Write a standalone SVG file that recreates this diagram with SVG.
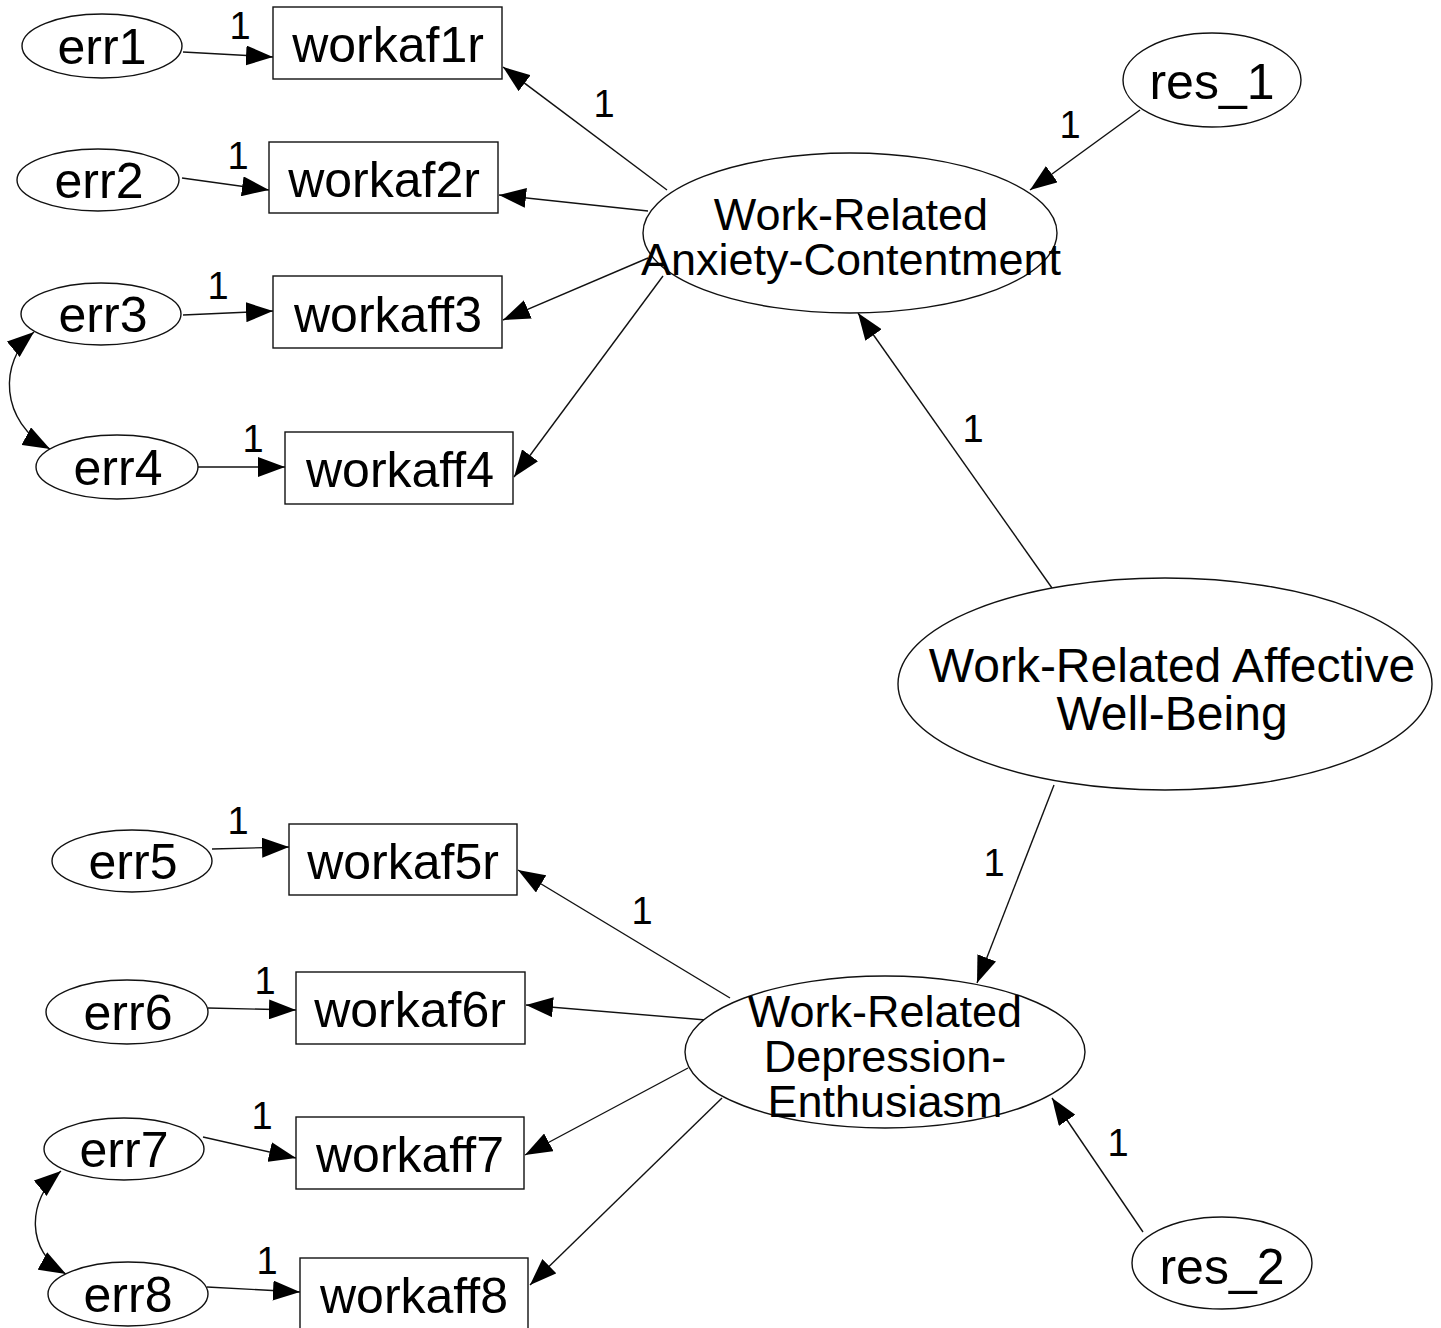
<svg xmlns="http://www.w3.org/2000/svg" width="1441" height="1328" viewBox="0 0 1441 1328">
  <style>
    .shape { fill: #fff; stroke: #111; stroke-width: 1.4; }
    .lbl { font-family: "Liberation Sans", Arial, sans-serif; font-size: 50px; fill: #000; text-anchor: middle; }
    .lat { font-family: "Liberation Sans", Arial, sans-serif; font-size: 45px; fill: #000; text-anchor: middle; }
    .big { font-family: "Liberation Sans", Arial, sans-serif; font-size: 48px; fill: #000; text-anchor: middle; }
    .w { font-family: "Liberation Sans", Arial, sans-serif; font-size: 38px; fill: #000; text-anchor: middle; }
    .path { fill: none; stroke: #111; stroke-width: 1.4; marker-end: url(#arrow); }
    .cov { fill: none; stroke: #111; stroke-width: 1.4; marker-start: url(#arrow); marker-end: url(#arrow); }
  </style>
  <defs>
    <marker id="arrow" viewBox="0 0 27 20" refX="27" refY="10" markerWidth="27" markerHeight="20" markerUnits="userSpaceOnUse" orient="auto-start-reverse">
      <path d="M0,0 L27,10 L0,20 z" fill="#000"/>
    </marker>
  </defs>
  <rect width="1441" height="1328" fill="#fff"/>

  <!-- paths and covariances -->
  <g id="connectors">
    <line class="path" x1="183" y1="52" x2="273" y2="57"/>
    <line class="path" x1="182" y1="178" x2="269" y2="190"/>
    <line class="path" x1="183" y1="315" x2="273" y2="311"/>
    <line class="path" x1="198" y1="467" x2="285" y2="467"/>
    <line class="path" x1="667" y1="190" x2="503" y2="67"/>
    <line class="path" x1="648" y1="211" x2="499" y2="195"/>
    <line class="path" x1="648" y1="258" x2="503" y2="320"/>
    <line class="path" x1="663" y1="276" x2="514" y2="477"/>
    <line class="path" x1="1140" y1="110" x2="1030" y2="190"/>
    <line class="path" x1="1052" y1="588" x2="858" y2="313"/>
    <line class="path" x1="1054" y1="785" x2="977" y2="983"/>
    <line class="path" x1="1143" y1="1232" x2="1052" y2="1098"/>
    <line class="path" x1="212" y1="849" x2="289" y2="847"/>
    <line class="path" x1="208" y1="1008" x2="296" y2="1010"/>
    <line class="path" x1="203" y1="1137" x2="296" y2="1158"/>
    <line class="path" x1="207" y1="1287" x2="300" y2="1292"/>
    <line class="path" x1="730" y1="998" x2="518" y2="870"/>
    <line class="path" x1="706" y1="1020" x2="526" y2="1005"/>
    <line class="path" x1="688" y1="1068" x2="525" y2="1155"/>
    <line class="path" x1="722" y1="1098" x2="530" y2="1285"/>
    <path class="cov" d="M34,332 C-2,362 0,422 50,449"/>
    <path class="cov" d="M61,1171 C26,1200 26,1252 66,1274"/>
  </g>

  <!-- regression weights -->
  <g id="weights">
    <text class="w" x="240" y="39">1</text>
    <text class="w" x="238" y="169">1</text>
    <text class="w" x="218" y="299">1</text>
    <text class="w" x="253" y="452">1</text>
    <text class="w" x="604" y="117">1</text>
    <text class="w" x="1070" y="138">1</text>
    <text class="w" x="973" y="442">1</text>
    <text class="w" x="994" y="876">1</text>
    <text class="w" x="238" y="834">1</text>
    <text class="w" x="642" y="924">1</text>
    <text class="w" x="265" y="994">1</text>
    <text class="w" x="262" y="1129">1</text>
    <text class="w" x="267" y="1274">1</text>
    <text class="w" x="1118" y="1156">1</text>
  </g>

  <!-- error terms and indicators -->
  <g id="err1"><ellipse class="shape" cx="102" cy="46" rx="80" ry="32"/><text class="lbl" x="102" y="64">err1</text></g>
  <g id="workaf1r"><rect class="shape" x="273" y="7" width="229" height="72"/><text class="lbl" x="388" y="62">workaf1r</text></g>
  <g id="err2"><ellipse class="shape" cx="98" cy="180" rx="81" ry="31"/><text class="lbl" x="99" y="198">err2</text></g>
  <g id="workaf2r"><rect class="shape" x="269" y="142" width="229" height="71"/><text class="lbl" x="384" y="197">workaf2r</text></g>
  <g id="err3"><ellipse class="shape" cx="101" cy="314" rx="80" ry="31"/><text class="lbl" x="103" y="332">err3</text></g>
  <g id="workaff3"><rect class="shape" x="273" y="276" width="229" height="72"/><text class="lbl" x="388" y="332">workaff3</text></g>
  <g id="err4"><ellipse class="shape" cx="117" cy="467" rx="81" ry="32"/><text class="lbl" x="118" y="485">err4</text></g>
  <g id="workaff4"><rect class="shape" x="285" y="432" width="228" height="72"/><text class="lbl" x="400" y="487">workaff4</text></g>

  <g id="err5"><ellipse class="shape" cx="132" cy="861" rx="80" ry="31"/><text class="lbl" x="133" y="879">err5</text></g>
  <g id="workaf5r"><rect class="shape" x="289" y="824" width="228" height="71"/><text class="lbl" x="403" y="879">workaf5r</text></g>
  <g id="err6"><ellipse class="shape" cx="127" cy="1012" rx="81" ry="32"/><text class="lbl" x="128" y="1030">err6</text></g>
  <g id="workaf6r"><rect class="shape" x="296" y="972" width="229" height="72"/><text class="lbl" x="410" y="1027">workaf6r</text></g>
  <g id="err7"><ellipse class="shape" cx="124" cy="1149" rx="80" ry="31"/><text class="lbl" x="124" y="1167">err7</text></g>
  <g id="workaff7"><rect class="shape" x="296" y="1117" width="228" height="72"/><text class="lbl" x="410" y="1172">workaff7</text></g>
  <g id="err8"><ellipse class="shape" cx="128" cy="1294" rx="80" ry="32"/><text class="lbl" x="128" y="1312">err8</text></g>
  <g id="workaff8"><rect class="shape" x="300" y="1258" width="228" height="80"/><text class="lbl" x="414" y="1313">workaff8</text></g>

  <!-- latent factors and residuals -->
  <g id="anxiety"><ellipse class="shape" cx="850" cy="233" rx="207" ry="80"/><text class="lat" x="851" y="230">Work-Related</text><text class="lat" x="851" y="275">Anxiety-Contentment</text></g>
  <g id="res_1"><ellipse class="shape" cx="1212" cy="80" rx="89" ry="47"/><text class="lbl" x="1212" y="99">res_1</text></g>
  <g id="wellbeing"><ellipse class="shape" cx="1165" cy="684" rx="267" ry="106"/><text class="big" x="1172" y="682">Work-Related Affective</text><text class="big" x="1172" y="730">Well-Being</text></g>
  <g id="depression"><ellipse class="shape" cx="885" cy="1052" rx="200" ry="76"/><text class="lat" x="885" y="1027">Work-Related</text><text class="lat" x="885" y="1072">Depression-</text><text class="lat" x="885" y="1117">Enthusiasm</text></g>
  <g id="res_2"><ellipse class="shape" cx="1222" cy="1263" rx="90" ry="46"/><text class="lbl" x="1222" y="1284">res_2</text></g>
</svg>
